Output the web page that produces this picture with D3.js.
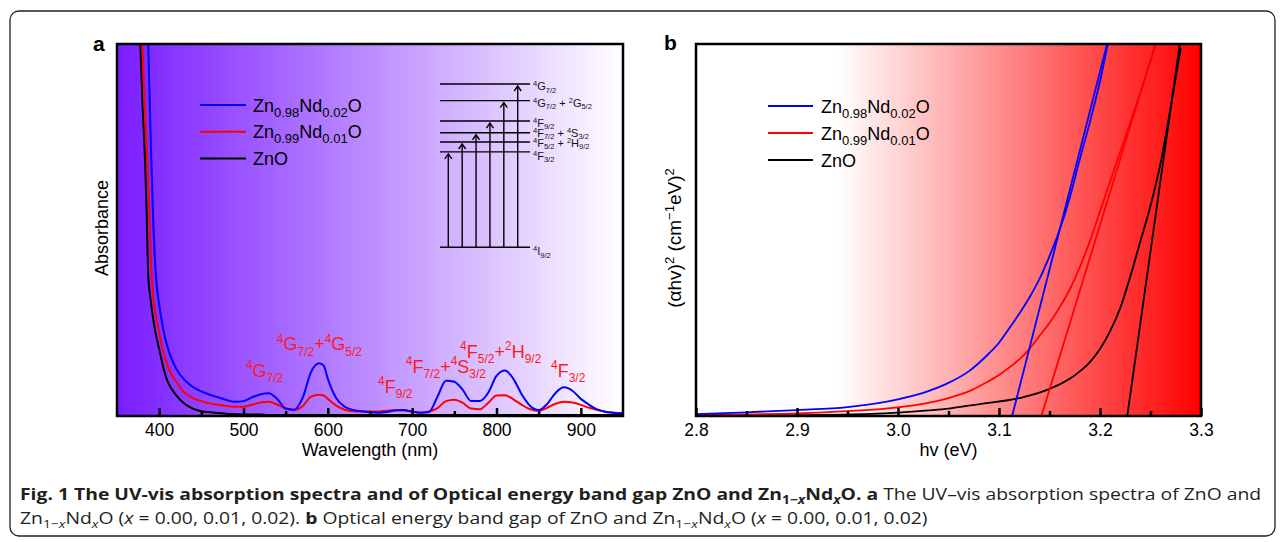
<!DOCTYPE html>
<html>
<head>
<meta charset="utf-8">
<script src="https://cdn.jsdelivr.net/npm/d3@7"></script>
<style>
  body { margin: 0; background: #fff; }
  svg { display: block; }
  text { white-space: pre; }
</style>
</head>
<body>
<div id="chart"></div>
<script>
// ---- data ----
// panel a: UV-vis absorbance (arbitrary units) against wavelength (nm)
var wavelengths = [370,375,378,380,383,385,387,390,393,396,400,405,410,415,420,430,440,450,460,470,
  480,490,500,510,520,530,540,550,560,570,580,590,595,600,610,620,630,640,650,660,
  670,680,690,700,710,720,730,740,750,760,770,780,790,800,810,820,830,840,850,860,
  870,880,890,900,910,920,930,940,950];
var absNd02 = [1.60,1.45,1.36,1.30,1.16,1.08,1.00,0.74,0.52,0.38,0.30,0.231,0.185,0.152,0.128,0.097,0.078,0.066,0.057,0.050,
  0.043,0.038,0.040,0.050,0.058,0.061,0.046,0.020,0.017,0.048,0.118,0.142,0.136,0.100,0.048,0.025,0.016,0.013,0.010,0.009,
  0.011,0.015,0.016,0.012,0.009,0.011,0.052,0.095,0.092,0.070,0.040,0.040,0.062,0.108,0.122,0.100,0.058,0.027,0.016,0.032,
  0.062,0.077,0.068,0.046,0.030,0.017,0.011,0.008,0.007];
var absNd01 = [1.50,1.25,1.10,1.00,0.83,0.73,0.64,0.43,0.32,0.27,0.225,0.170,0.135,0.110,0.093,0.063,0.048,0.040,0.034,0.030,
  0.027,0.025,0.025,0.030,0.036,0.038,0.031,0.020,0.016,0.026,0.052,0.057,0.055,0.046,0.028,0.017,0.013,0.012,0.012,0.012,
  0.014,0.016,0.015,0.012,0.009,0.012,0.021,0.040,0.044,0.035,0.020,0.018,0.035,0.055,0.056,0.045,0.030,0.018,0.014,0.022,
  0.033,0.038,0.036,0.030,0.022,0.016,0.011,0.009,0.008];
var absZnO = [1.40,1.15,0.98,0.85,0.70,0.56,0.38,0.31,0.26,0.22,0.18,0.13,0.093,0.072,0.056,0.033,0.020,0.013,0.010,0.008,
  0.006,0.005,0.004,0.004,0.004,0.003,0.003,0.003,0.003,0.003,0.003,0.003,0.003,0.003,0.003,0.003,0.003,0.003,0.003,0.003,
  0.003,0.003,0.003,0.003,0.003,0.003,0.003,0.003,0.003,0.003,0.003,0.003,0.003,0.003,0.003,0.003,0.003,0.003,0.003,0.003,
  0.003,0.003,0.003,0.003,0.003,0.003,0.003,0.003,0.003];

var seriesNames = ["Zn_{0.98}Nd_{0.02}O", "Zn_{0.99}Nd_{0.01}O", "ZnO"];
var seriesColors = ["#0000ff", "#ff0000", "#000000"];

var wlTicks = [400,500,600,700,800,900];
var wlMinor = [450,550,650,750,850];

// Nd3+ transitions marked on the spectrum
var peakWl = [525, 590, 680, 740, 805, 885];
var peakLabelAbs = [0.105, 0.177, 0.063, 0.116, 0.156, 0.106];
var peakLabels = ["^{4}G_{7/2}", "^{4}G_{7/2}+^{4}G_{5/2}", "^{4}F_{9/2}",
  "^{4}F_{7/2}+^{4}S_{3/2}", "^{4}F_{5/2}+^{2}H_{9/2}", "^{4}F_{3/2}"];

// energy level inset (cm-1 above ground state)
var levelEnergy = [0, 11100, 12250, 13330, 14690, 17060, 19000];
var levelNames = ["^{4}I_{9/2}", "^{4}F_{3/2}", "^{4}F_{5/2} + ^{2}H_{9/2}", "^{4}F_{7/2} + ^{4}S_{3/2}",
  "^{4}F_{9/2}", "^{4}G_{7/2} + ^{2}G_{5/2}", "^{4}G_{7/2}"];
var levelLabelDy = [8, 8, 4.7, 3.8, 5.5, 6, 6];

// panel b: (alpha h nu)^2 against photon energy (eV)
var energies = [2.80,2.85,2.90,2.95,3.00,3.03,3.05,3.07,3.09,3.10,3.11,3.12,3.13,3.14,
  3.15,3.16,3.17,3.18,3.19,3.20,3.21,3.22,3.23,3.24,3.25,3.26,3.27,3.28];
var taucNd02 = [0.005,0.010,0.016,0.024,0.045,0.067,0.089,0.120,0.168,0.197,0.235,0.275,0.318,0.368,
  0.430,0.500,0.586,0.690,0.790,0.900,1.03,null,null,null,null,null,null,null];
var taucNd01 = [0.002,0.004,0.007,0.013,0.023,0.035,0.048,0.066,0.094,0.110,0.130,0.152,0.180,0.215,
  0.250,0.292,0.340,0.400,0.470,0.550,0.630,0.710,0.790,0.870,0.955,1.04,null,null];
var taucZnO = [0.000,0.001,0.002,0.004,0.009,0.015,0.020,0.028,0.035,0.039,0.043,0.048,0.055,0.063,
  0.073,0.085,0.100,0.120,0.145,0.180,0.228,0.290,0.375,0.470,0.565,0.680,0.830,0.990];
// linear fits: intercept on the energy axis and energy where the fit leaves the top
var bandGap = [3.113, 3.142, 3.227];
var fitTopEnergy = [3.207, 3.255, 3.279];

var eTicks = [2.8,2.9,3.0,3.1,3.2,3.3];
var eMinor = [2.85,2.95,3.05,3.15,3.25];

// ---- drawing ----
var svgWidth = 1284, svgHeight = 542;
var svg = d3.select("#chart").append("svg")
  .attr("width", svgWidth).attr("height", svgHeight)
  .style("font-family", "'Liberation Sans', Arial, sans-serif");

var defs = svg.append("defs");
var gA = defs.append("linearGradient").attr("id", "bgA");
gA.append("stop").attr("offset", "0%").attr("stop-color", "#7a1cff");
gA.append("stop").attr("offset", "100%").attr("stop-color", "#ffffff");
var gB = defs.append("linearGradient").attr("id", "bgB");
gB.append("stop").attr("offset", "0%").attr("stop-color", "#ffffff");
gB.append("stop").attr("offset", "28%").attr("stop-color", "#ffffff");
gB.append("stop").attr("offset", "100%").attr("stop-color", "#ff0000");

// sub/superscript markup: ^{..} sup, _{..} sub
function rich(t, markup, size, small, up, down) {
  var re = /\^\{([^}]*)\}|_\{([^}]*)\}|([^\^_]+)/g, m, cur = 0;
  while ((m = re.exec(markup))) {
    var txt, off, fs;
    if (m[1] !== undefined) { txt = m[1]; off = -up; fs = small; }
    else if (m[2] !== undefined) { txt = m[2]; off = down; fs = small; }
    else { txt = m[3]; off = 0; fs = size; }
    t.append("tspan").attr("dy", off - cur).attr("font-size", fs).text(txt);
    cur = off;
  }
}

// outer frame
svg.append("rect").attr("x", 10).attr("y", 11).attr("width", 1265).attr("height", 525)
  .attr("rx", 9).attr("fill", "none").attr("stroke", "#222").attr("stroke-width", 1.3);

var yA = d3.scaleLinear().domain([0, 1]).range([416, 44]);
var xA = d3.scaleLinear().domain([350, 950]).range([117, 623]);
var xB = d3.scaleLinear().domain([2.8, 3.3]).range([696, 1201]);
var yB = d3.scaleLinear().domain([0, 1]).range([416, 44]);

function panel(x, y, id, grad) {
  var g = svg.append("g");
  defs.append("clipPath").attr("id", id).append("rect")
    .attr("x", x.range()[0]).attr("y", y.range()[1])
    .attr("width", x.range()[1] - x.range()[0]).attr("height", y.range()[0] - y.range()[1]);
  g.append("rect")
    .attr("x", x.range()[0]).attr("y", y.range()[1])
    .attr("width", x.range()[1] - x.range()[0]).attr("height", y.range()[0] - y.range()[1])
    .attr("fill", "url(#" + grad + ")");
  return g;
}

function frame(g, x, y) {
  g.append("rect")
    .attr("x", x.range()[0]).attr("y", y.range()[1])
    .attr("width", x.range()[1] - x.range()[0]).attr("height", y.range()[0] - y.range()[1])
    .attr("fill", "none").attr("stroke", "#000").attr("stroke-width", 2.5);
}

function ticks(g, x, major, minor, fmt) {
  var a1 = g.append("g").attr("transform", "translate(0,416)")
    .call(d3.axisBottom(x).tickValues(major).tickSizeInner(-8).tickSizeOuter(0).tickPadding(7.5).tickFormat(fmt));
  var a2 = g.append("g").attr("transform", "translate(0,416)")
    .call(d3.axisBottom(x).tickValues(minor).tickSizeInner(-5).tickSizeOuter(0).tickFormat(""));
  [a1, a2].forEach(function(a) {
    a.select(".domain").remove();
    a.selectAll("line").attr("stroke", "#000").attr("stroke-width", 2.5);
  });
  a1.selectAll("text").attr("font-size", 17.5).attr("fill", "#000")
    .style("font-family", "'Liberation Sans', Arial, sans-serif");
}

// ===== panel a =====
var pa = panel(xA, yA, "clipA", "bgA");
var absSeries = [absNd02, absNd01, absZnO];
var lineA = d3.line()
  .x(function(d, i) { return xA(wavelengths[i]); })
  .y(function(d) { return yA(d); })
  .curve(d3.curveMonotoneX);
var curvesA = pa.append("g").attr("clip-path", "url(#clipA)");
// ZnO first so the doped spectra sit on top
[2, 1, 0].forEach(function(k) {
  curvesA.append("path").attr("d", lineA(absSeries[k]))
    .attr("fill", "none").attr("stroke", seriesColors[k]).attr("stroke-width", 2);
});
ticks(pa, xA, wlTicks, wlMinor, d3.format("d"));
frame(pa, xA, yA);

pa.append("text").attr("x", 370).attr("y", 456).attr("text-anchor", "middle")
  .attr("font-size", 18).text("Wavelength (nm)");
pa.append("text").attr("transform", "translate(108,228) rotate(-90)")
  .attr("text-anchor", "middle").attr("font-size", 18).text("Absorbance");
svg.append("text").attr("x", 93).attr("y", 51).attr("font-size", 21)
  .attr("font-weight", "bold").text("a");

// legend a
seriesNames.forEach(function(n, k) {
  var yy = 105 + k * 26.7;
  pa.append("line").attr("x1", 200).attr("x2", 246).attr("y1", yy).attr("y2", yy)
    .attr("stroke", seriesColors[k]).attr("stroke-width", 2);
  var t = pa.append("text").attr("x", 253).attr("y", yy + 6.5).attr("font-size", 18);
  rich(t, n, 18, 13, 6, 5);
});

// peak labels
peakLabels.forEach(function(s, i) {
  var t = pa.append("text").attr("x", xA(peakWl[i])).attr("y", yA(peakLabelAbs[i]))
    .attr("text-anchor", "middle").attr("fill", "#ff1a1a").attr("font-size", 18);
  rich(t, s, 18, 12, 7.5, 5.5);
});

// energy level inset
var yE = d3.scaleLinear().domain([0, 19000]).range([247.3, 84]);
var xArrow = d3.scalePoint().domain(d3.range(1, levelEnergy.length)).range([448.3, 517.7]);
var inset = pa.append("g");
levelEnergy.forEach(function(e, i) {
  inset.append("line").attr("x1", 440).attr("x2", 530).attr("y1", yE(e)).attr("y2", yE(e))
    .attr("stroke", "#000").attr("stroke-width", 1.4);
  var t = inset.append("text").attr("x", 533).attr("y", yE(e) + levelLabelDy[i])
    .attr("font-size", 11).attr("fill", "#111");
  rich(t, levelNames[i], 11, 7.5, 4, 2.6);
});
levelEnergy.slice(1).forEach(function(e, j) {
  var ax = xArrow(j + 1), tip = yE(e) + 2;
  inset.append("line").attr("x1", ax).attr("x2", ax).attr("y1", yE(0)).attr("y2", tip)
    .attr("stroke", "#000").attr("stroke-width", 1.4);
  inset.append("path").attr("d", "M" + (ax - 3.5) + "," + (tip + 5) + "L" + ax + "," + tip + "L" + (ax + 3.5) + "," + (tip + 5))
    .attr("fill", "none").attr("stroke", "#000").attr("stroke-width", 1.4);
});

// ===== panel b =====
var pb = panel(xB, yB, "clipB", "bgB");
var tauc = [taucNd02, taucNd01, taucZnO];
var lineB = d3.line()
  .defined(function(d) { return d !== null; })
  .x(function(d, i) { return xB(energies[i]); })
  .y(function(d) { return yB(d); })
  .curve(d3.curveMonotoneX);
var curvesB = pb.append("g").attr("clip-path", "url(#clipB)");
[2, 1, 0].forEach(function(k) {
  curvesB.append("path").attr("d", lineB(tauc[k]))
    .attr("fill", "none").attr("stroke", seriesColors[k]).attr("stroke-width", 1.8);
  curvesB.append("line")
    .attr("x1", xB(bandGap[k])).attr("y1", yB(0))
    .attr("x2", xB(fitTopEnergy[k])).attr("y2", yB(1))
    .attr("stroke", seriesColors[k]).attr("stroke-width", 1.8);
});
ticks(pb, xB, eTicks, eMinor, d3.format(".1f"));
frame(pb, xB, yB);

pb.append("text").attr("x", (xB.range()[0] + xB.range()[1]) / 2).attr("y", 456)
  .attr("text-anchor", "middle").attr("font-size", 18).text("hv (eV)");
var yl = pb.append("text").attr("transform", "translate(681,238) rotate(-90)")
  .attr("text-anchor", "middle").attr("font-size", 19);
rich(yl, "(\u03b1hv)^{2} (cm^{\u22121}eV)^{2}", 19, 13, 7.5, 5);
svg.append("text").attr("x", 664).attr("y", 50).attr("font-size", 21)
  .attr("font-weight", "bold").text("b");

seriesNames.forEach(function(n, k) {
  var yy = 106 + k * 27;
  pb.append("line").attr("x1", 768).attr("x2", 813).attr("y1", yy).attr("y2", yy)
    .attr("stroke", seriesColors[k]).attr("stroke-width", 2);
  var t = pb.append("text").attr("x", 821).attr("y", yy + 6.5).attr("font-size", 18);
  rich(t, n, 18, 13, 6, 5);
});

// ===== caption =====
var capLine1 = [["Fig. 1 The UV-vis absorption spectra and of Optical energy band gap ZnO and Zn", "b"],
  ["1\u2212", "bs"], ["x", "bsi"], ["Nd", "b"], ["x", "bsi"], ["O. a", "b"],
  [" The UV\u2013vis absorption spectra of ZnO and", ""]];
var capLine2 = [["Zn", ""], ["1\u2212", "s"], ["x", "si"], ["Nd", ""], ["x", "si"], ["O (", ""], ["x", "i"],
  [" = 0.00, 0.01, 0.02). ", ""], ["b", "b"], [" Optical energy band gap of ZnO and Zn", ""],
  ["1\u2212", "s"], ["x", "si"], ["Nd", ""], ["x", "si"], ["O (", ""], ["x", "i"], [" = 0.00, 0.01, 0.02)", ""]];

function caption(segs) {
  var t = svg.append("text").attr("x", 0).attr("y", 0)
    .style("font-family", "'Open Sans', sans-serif").attr("font-size", 16).attr("fill", "#231f20");
  var cur = 0;
  segs.forEach(function(s) {
    var sub = s[1].indexOf("s") >= 0, off = sub ? 4 : 0;
    t.append("tspan").text(s[0])
      .attr("dy", off - cur)
      .attr("font-size", sub ? 11.5 : 16)
      .attr("font-weight", s[1].indexOf("b") >= 0 ? "bold" : "normal")
      .attr("font-style", s[1].indexOf("i") >= 0 ? "italic" : "normal");
    cur = off;
  });
  return t;
}
var c1 = caption(capLine1), c2 = caption(capLine2);
var sx = 1242 / c1.node().getComputedTextLength();
c1.attr("transform", "translate(20,500) scale(" + sx + ",1)");
c2.attr("transform", "translate(20,523.5) scale(" + sx + ",1)");
</script>
</body>
</html>
